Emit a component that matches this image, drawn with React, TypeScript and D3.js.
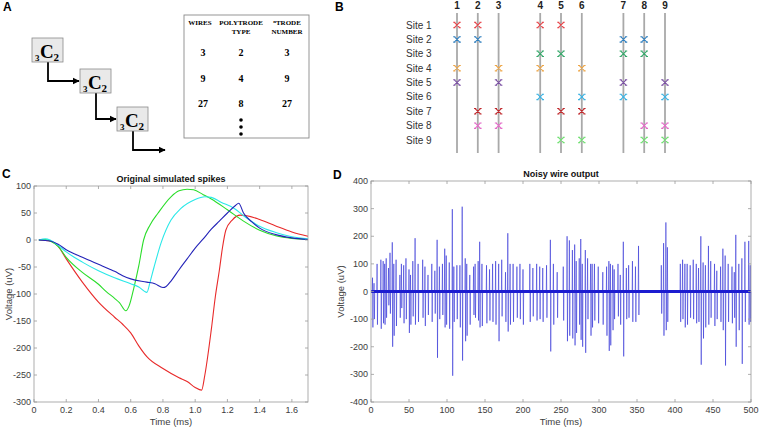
import * as d3 from 'd3';

const W = 760;
const H = 432;

// ---- panel A: polytrode table
const headerWires = ['WIRES'];
const headerType = ['POLYTRODE', 'TYPE'];
const headerNumber = ['TRODE', 'NUMBER'];
const wireCounts = ['3', '9', '27'];
const polytrodeTypes = ['2', '4', '8'];
const trodeNumbers = ['3', '9', '27'];

// ---- panel B: wire/site layout
const wireLabels = ['1', '2', '3', '4', '5', '6', '7', '8', '9'];
const siteLabels = ['Site 1', 'Site 2', 'Site 3', 'Site 4', 'Site 5', 'Site 6', 'Site 7', 'Site 8', 'Site 9'];
const siteWires = [
  [1, 2, 4, 5],
  [1, 2, 7, 8],
  [4, 5, 7, 8],
  [1, 3, 4, 6],
  [1, 3, 7, 9],
  [4, 6, 7, 9],
  [2, 3, 5, 6],
  [2, 3, 8, 9],
  [5, 6, 8, 9],
];
const siteColors = ['#e8454a', '#2f7fbf', '#35a86a', '#eea647', '#7a4fa3', '#3bb3e3', '#c0282c', '#e46ac8', '#6fe070'];

// ---- panel C: simulated spikes (time ms, voltage uV)
const spikeRed = [
  [0.03, 0], [0.1, -2], [0.15, -12], [0.2, -35], [0.3, -78], [0.4, -115], [0.5, -143], [0.55, -156],
  [0.6, -172], [0.65, -196], [0.7, -216], [0.8, -238], [0.9, -255], [0.95, -262], [1.0, -273], [1.04, -278],
  [1.06, -250], [1.1, -166], [1.125, -105], [1.15, -56], [1.17, -13], [1.19, 18], [1.23, 37], [1.28, 46],
  [1.32, 45], [1.4, 38], [1.5, 26], [1.6, 15], [1.7, 7],
];
const spikeGreen = [
  [0.03, 0], [0.07, 1], [0.1, -2], [0.15, -12], [0.2, -32], [0.3, -60], [0.4, -82], [0.45, -96],
  [0.5, -108], [0.53, -116], [0.57, -131], [0.59, -122], [0.62, -88], [0.65, -48], [0.68, 0], [0.72, 28],
  [0.77, 50], [0.85, 80], [0.9, 91], [0.95, 94], [0.99, 93], [1.05, 84], [1.1, 76], [1.2, 56], [1.3, 35],
  [1.4, 18], [1.5, 8], [1.6, 3], [1.7, 1],
];
const spikeCyan = [
  [0.03, 0], [0.07, 2], [0.1, 0], [0.15, -10], [0.2, -22], [0.3, -41], [0.4, -57], [0.5, -70], [0.6, -81],
  [0.65, -87], [0.7, -97], [0.72, -78], [0.745, -50], [0.79, -4], [0.85, 37], [0.91, 58], [1.0, 75],
  [1.06, 80], [1.1, 79], [1.16, 70], [1.245, 58], [1.3, 45], [1.39, 27], [1.5, 14], [1.6, 6], [1.7, 2],
];
const spikeBlue = [
  [0.03, 0], [0.1, -2], [0.15, -8], [0.2, -18], [0.3, -32], [0.4, -45], [0.47, -54], [0.5, -58],
  [0.55, -66], [0.6, -72], [0.7, -78], [0.75, -81], [0.8, -88], [0.82, -86], [0.85, -76], [0.9, -55],
  [0.95, -35], [1.0, -15], [1.05, 2], [1.1, 20], [1.15, 35], [1.2, 50], [1.25, 64], [1.27, 68], [1.3, 50],
  [1.35, 34], [1.4, 22], [1.5, 10], [1.6, 4], [1.7, 1],
];
const spikeSeries = [
  { name: 'red', color: '#e82a2a', values: spikeRed },
  { name: 'green', color: '#2add2a', values: spikeGreen },
  { name: 'cyan', color: '#2ae8e8', values: spikeCyan },
  { name: 'blue', color: '#2323b8', values: spikeBlue },
];
const cTicksX = [0, 0.2, 0.4, 0.6, 0.8, 1, 1.2, 1.4, 1.6];
const cTicksY = [-300, -250, -200, -150, -100, -50, 0, 50, 100];

// ---- panel D: spike events on the wire (time ms, peak uV, trough uV)
const wireSpikes = [
  [2, 50, -130], [4, 30, -100], [8, 100, -120], [13, 115, -135], [16, 110, -115], [18, 100, -120],
  [20, 120, -95], [23, 85, -50], [25, 140, -80], [28, 178, -200], [30, 100, -160], [33, 115, -125],
  [38, 60, -95], [40, 100, -60], [43, 95, -115], [46, 120, -100], [50, 80, -150], [52, 60, -120],
  [55, 110, -90], [58, 193, -120], [62, 100, -110], [68, 115, -95], [71, 90, -125], [75, 60, -85],
  [80, 100, -110], [84, 75, -80], [87, 187, -240], [90, 90, -100], [94, 100, -85], [97, 155, -130],
  [99, 130, -120], [103, 105, -135], [107, 298, -305], [109, 90, -110], [113, 95, -100], [117, 95, -130],
  [120, 307, -250], [124, 120, -180], [126, 100, -160], [130, 60, -120], [135, 90, -85], [137, 100, -95],
  [141, 110, -105], [143, 180, -130], [146, 100, -125], [152, 95, -115], [156, 80, -105], [160, 100, -110],
  [164, 110, -120], [168, 100, -180], [172, 115, -90], [177, 70, -110], [180, 211, -145], [183, 100, -120],
  [187, 100, -110], [192, 90, -95], [196, 100, -100], [200, 80, -120], [209, 100, -110], [213, 85, -90],
  [218, 100, -105], [222, 90, -100], [226, 85, -110], [231, 95, -95], [236, 187, -217], [240, 100, -120],
  [245, 70, -95], [253, 90, -105], [258, 200, -180], [261, 185, -160], [265, 150, -170], [268, 170, -195],
  [270, 110, -150], [274, 120, -120], [276, 190, -175], [278, 100, -200], [282, 150, -222], [285, 120, -100],
  [289, 100, -160], [291, 100, -130], [294, 100, -105], [299, 90, -115], [305, 70, -120], [310, 90, -160],
  [313, 110, -215], [315, 100, -195], [318, 95, -140], [320, 80, -100], [325, 100, -90], [328, 60, -120],
  [332, 180, -235], [336, 85, -100], [339, 95, -95], [344, 110, -110], [348, 90, -110], [352, 165, -85],
  [382, 95, -80], [385, 175, -160], [388, 250, -140], [390, 160, -110], [407, 100, -110], [410, 115, -100],
  [413, 100, -130], [416, 100, -120], [420, 95, -95], [424, 115, -100], [428, 100, -115], [431, 85, -110],
  [434, 200, -265], [437, 105, -170], [440, 95, -130], [444, 165, -120], [447, 110, -95], [452, 100, -125],
  [455, 75, -100], [460, 90, -110], [463, 155, -140], [466, 130, -268], [470, 100, -110], [475, 90, -115],
  [478, 70, -95], [480, 205, -200], [484, 100, -140], [488, 120, -262], [492, 180, -110], [497, 183, -120],
  [499, 95, -110],
];
const dTicksX = [0, 50, 100, 150, 200, 250, 300, 350, 400, 450, 500];
const dTicksY = [-400, -300, -200, -100, 0, 100, 200, 300, 400];

const SANS = 'Liberation Sans, Arial, sans-serif';
const SERIF = 'Liberation Serif, Times New Roman, serif';
const AXIS = '#9a9a9a';
const TICKTXT = '#3c3c3c';

function AxesBox({ x, y, xTicks, yTicks, fmtX, title, xLabel, yLabel, yLabelX }) {
  const [x0, x1] = x.range();
  const [y0, y1] = y.range();
  const cx = (x0 + x1) / 2;
  return (
    <g>
      <rect x={x0} y={y1} width={x1 - x0} height={y0 - y1} fill="none" stroke={AXIS} strokeWidth={0.8} />
      {xTicks.map((t) => (
        <g key={'x' + t}>
          <line x1={x(t)} x2={x(t)} y1={y0} y2={y0 - 3} stroke={AXIS} strokeWidth={0.8} />
          <line x1={x(t)} x2={x(t)} y1={y1} y2={y1 + 3} stroke={AXIS} strokeWidth={0.8} />
          <text x={x(t)} y={y0 + 11} textAnchor="middle" fontSize={9} fill={TICKTXT} fontFamily={SANS}>
            {fmtX(t)}
          </text>
        </g>
      ))}
      {yTicks.map((t) => (
        <g key={'y' + t}>
          <line x1={x0} x2={x0 + 3} y1={y(t)} y2={y(t)} stroke={AXIS} strokeWidth={0.8} />
          <line x1={x1} x2={x1 - 3} y1={y(t)} y2={y(t)} stroke={AXIS} strokeWidth={0.8} />
          <text x={x0 - 3} y={y(t) + 3} textAnchor="end" fontSize={9} fill={TICKTXT} fontFamily={SANS}>
            {t}
          </text>
        </g>
      ))}
      <text x={cx} y={y1 - 4} textAnchor="middle" fontSize={9} fontWeight="bold" fill="#111" fontFamily={SANS}>
        {title}
      </text>
      <text x={cx} y={y0 + 23} textAnchor="middle" fontSize={9.5} fill={TICKTXT} fontFamily={SANS}>
        {xLabel}
      </text>
      <text
        transform={`translate(${yLabelX},${(y0 + y1) / 2}) rotate(-90)`}
        textAnchor="middle"
        fontSize={9.5}
        fill={TICKTXT}
        fontFamily={SANS}
      >
        {yLabel}
      </text>
    </g>
  );
}

function PanelA() {
  const boxes = [
    [32, 38],
    [80, 69],
    [117, 107],
  ];
  const bw = 31;
  const bh = 24;
  const cols = [200, 241, 287];
  const rowY = d3.scaleLinear().domain([0, 2]).range([56, 107]);
  const arrows = boxes.map(([bx, by], i) => {
    const sx = bx + 16;
    const sy = by + bh;
    const next = boxes[i + 1];
    const ty = next ? next[1] + bh / 2 : by + bh + 19;
    const tx = next ? next[0] - 1 : sx + 32;
    return `M${sx},${sy} V${ty} H${tx}`;
  });
  return (
    <g>
      <defs>
        <marker id="arr" viewBox="0 0 10 10" refX="9" refY="5" markerWidth="4" markerHeight="4" orient="auto">
          <path d="M0,0 L10,5 L0,10 z" fill="#000" />
        </marker>
      </defs>
      {arrows.map((d, i) => (
        <path key={i} d={d} fill="none" stroke="#000" strokeWidth={1.8} markerEnd="url(#arr)" />
      ))}
      {boxes.map(([bx, by], i) => (
        <g key={i}>
          <rect x={bx} y={by} width={bw} height={bh} fill="#e9e9e9" stroke="#8a8a8a" strokeWidth={0.8} />
          <text x={bx + 3} y={by + 23} fontSize={9} fontWeight="bold" fontFamily={SERIF}>3</text>
          <text x={bx + 8} y={by + 20} fontSize={19} fontWeight="bold" fontFamily={SERIF}>C</text>
          <text x={bx + 21.5} y={by + 23} fontSize={11} fontWeight="bold" fontFamily={SERIF}>2</text>
        </g>
      ))}
      <rect x={184} y={15} width={125} height={123} fill="#fff" stroke="#8a8a8a" strokeWidth={0.9} />
      {[headerWires, headerType, headerNumber].map((lines, ci) =>
        lines.map((s, li) => (
          <text
            key={ci + '-' + li}
            x={cols[ci]}
            y={25 + li * 9}
            textAnchor="middle"
            fontSize={7}
            fontWeight="bold"
            fontFamily={SERIF}
          >
            {ci === 2 && li === 0 ? (
              <>
                <tspan fontSize={5} dy={-2}>n</tspan>
                <tspan dy={2}>{s}</tspan>
              </>
            ) : (
              s
            )}
          </text>
        ))
      )}
      {[wireCounts, polytrodeTypes, trodeNumbers].map((col, ci) =>
        col.map((v, ri) => (
          <text
            key={ci + '_' + ri}
            x={cols[ci] + (ci === 0 ? 3 : 0)}
            y={rowY(ri)}
            textAnchor="middle"
            fontSize={10}
            fontWeight="bold"
            fontFamily={SERIF}
          >
            {v}
          </text>
        ))
      )}
      {[0, 1, 2].map((i) => (
        <circle key={i} cx={cols[1]} cy={120 + i * 7} r={1.8} fill="#000" />
      ))}
    </g>
  );
}

function PanelB() {
  // wires sit in groups of three with a one-slot gap between groups
  const slot = (w) => w - 1 + Math.floor((w - 1) / 3);
  const x = d3.scaleLinear().domain([0, 10]).range([457, 665]);
  const y = d3.scaleLinear().domain([0, 8]).range([25, 140]);
  const s = 2.7;
  const c = 1.1;
  return (
    <g fontFamily={SANS}>
      {wireLabels.map((lab, i) => (
        <g key={lab}>
          <line x1={x(slot(i + 1))} x2={x(slot(i + 1))} y1={13} y2={153} stroke="#a9a9a9" strokeWidth={1.8} />
          <text x={x(slot(i + 1))} y={9} textAnchor="middle" fontSize={10} fontWeight="bold" fill="#222">
            {lab}
          </text>
        </g>
      ))}
      {siteLabels.map((lab, si) => (
        <text key={lab} x={406} y={y(si) + 3.5} fontSize={10} fill="#333">
          {lab}
        </text>
      ))}
      {siteWires.map((ws, si) =>
        ws.map((w) => {
          const cx = x(slot(w));
          const cy = y(si);
          return (
            <path
              key={si + '-' + w}
              d={`M${cx - s},${cy - s}L${cx + s},${cy + s}M${cx + s},${cy - s}L${cx - s},${cy + s}M${cx - s - c},${cy - s}H${cx - s + c}M${cx + s - c},${cy - s}H${cx + s + c}M${cx - s - c},${cy + s}H${cx - s + c}M${cx + s - c},${cy + s}H${cx + s + c}`}
              stroke={siteColors[si]}
              strokeWidth={1.1}
              fill="none"
            />
          );
        })
      )}
    </g>
  );
}

function PanelC() {
  const x = d3.scaleLinear().domain([0, 1.7]).range([34, 308]);
  const y = d3.scaleLinear().domain([-300, 100]).range([402, 186]);
  const line = d3
    .line()
    .x((d) => x(d[0]))
    .y((d) => y(d[1]))
    .curve(d3.curveMonotoneX);
  return (
    <g>
      {spikeSeries.map((s) => (
        <path key={s.name} d={line(s.values)} fill="none" stroke={s.color} strokeWidth={1.1} />
      ))}
      <AxesBox
        x={x}
        y={y}
        xTicks={cTicksX}
        yTicks={cTicksY}
        fmtX={(t) => (t === 0 ? '0' : d3.format('.1f')(t))}
        title="Original simulated spikes"
        xLabel="Time (ms)"
        yLabel="Voltage (uV)"
        yLabelX={12}
      />
    </g>
  );
}

function PanelD() {
  const x = d3.scaleLinear().domain([0, 500]).range([371, 751]);
  const y = d3.scaleLinear().domain([-400, 400]).range([402, 181]);
  const pts = [[0, 0]];
  wireSpikes.forEach(([t, hi, lo]) => {
    pts.push([t - 0.4, 0], [t, hi], [t + 0.5, lo], [t + 0.9, 0]);
  });
  pts.push([500, 0]);
  const line = d3
    .line()
    .x((d) => x(d[0]))
    .y((d) => y(d[1]));
  return (
    <g>
      <path d={line(pts)} fill="none" stroke="#2222d4" strokeWidth={0.75} strokeOpacity={0.7} />
      <line x1={x(0)} x2={x(500)} y1={y(0)} y2={y(0)} stroke="#1c1cd0" strokeWidth={2.8} />
      <AxesBox
        x={x}
        y={y}
        xTicks={dTicksX}
        yTicks={dTicksY}
        fmtX={(t) => String(t)}
        title="Noisy wire output"
        xLabel="Time (ms)"
        yLabel="Voltage (uV)"
        yLabelX={344}
      />
    </g>
  );
}

export default function App() {
  return (
    <svg
      width={W}
      height={H}
      viewBox={`0 0 ${W} ${H}`}
      style={{ position: 'absolute', left: 0, top: 0, background: '#fff' }}
    >
      <rect width={W} height={H} fill="#fff" />
      <g fontFamily={SANS} fontWeight="bold" fontSize={12} fill="#000">
        <text x={3} y={11}>A</text>
        <text x={335} y={11}>B</text>
        <text x={2} y={178}>C</text>
        <text x={333} y={179}>D</text>
      </g>
      <PanelA />
      <PanelB />
      <PanelC />
      <PanelD />
    </svg>
  );
}
